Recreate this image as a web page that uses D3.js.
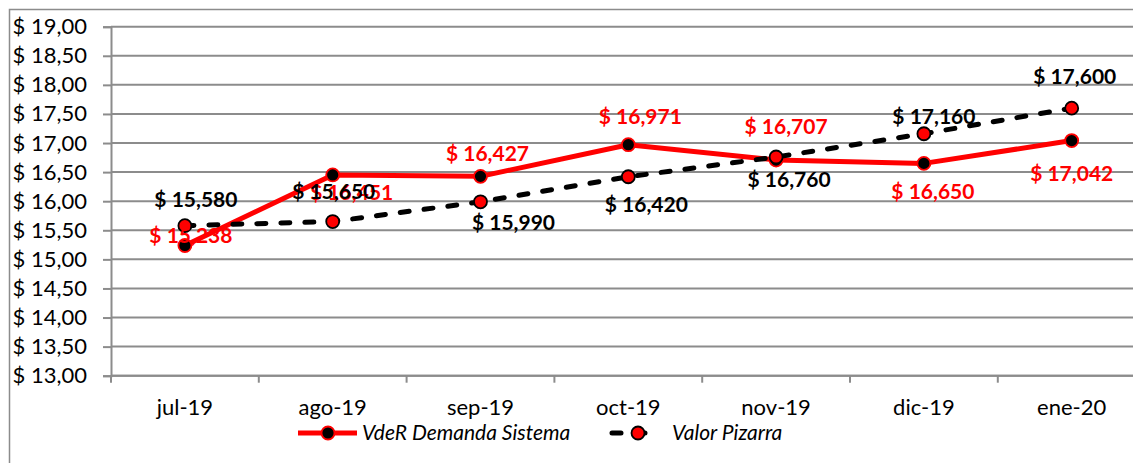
<!DOCTYPE html>
<html>
<head>
<meta charset="utf-8">
<script src="https://cdn.jsdelivr.net/npm/d3@7"></script>
<style>
    body { margin: 0; background: #fff; }
    svg { display: block; font-family: Lato, "Open Sans", sans-serif; }
    .axis-label { font-size: 22px; fill: #000; }
    .bar-text { font-size: 21px; font-weight: bold; }
    .legend-text { font-size: 21px; font-style: italic; fill: #000; }
</style>
</head>
<body>
<div id="chart"></div>
<script>
const months = ["jul-19", "ago-19", "sep-19", "oct-19", "nov-19", "dic-19", "ene-20"];
const vdeR = [15.238, 16.451, 16.427, 16.971, 16.707, 16.650, 17.042];
const pizarra = [15.580, 15.650, 15.990, 16.420, 16.760, 17.160, 17.600];
const yTicks = [13, 13.5, 14, 14.5, 15, 15.5, 16, 16.5, 17, 17.5, 18, 18.5, 19];
const seriesNames = ["VdeR Demanda Sistema", "Valor Pizarra"];

// label nudges (dx, dy) as the labels sit in the original
const vdeROffsets = [[6, -10], [19, 18], [7, -23], [12, -28], [10, -33], [9, 28], [0, 33]];
const pizarraOffsets = [[11, -26], [1, -30], [33, 21], [18, 28], [13, 23], [10, -17], [3, -31]];

const W = 1133, H = 463;
const margin = { top: 26.7, left: 111 };
const plotW = 7 * 147.8;
const plotBottom = 375.7;

const locale = d3.formatLocale({ decimal: ",", thousands: ".", grouping: [3], currency: ["$", ""] });
const fmtTick = locale.format(".2f");
const fmtVal = locale.format(".3f");

const svg = d3.select("#chart").append("svg")
    .attr("width", W)
    .attr("height", H);

// outer chart border
svg.append("rect")
    .attr("x", 9.5).attr("y", 9.5)
    .attr("width", W + 20).attr("height", H + 20)
    .attr("fill", "none")
    .attr("stroke", "#8c8c8c")
    .attr("stroke-width", 1.5);

const x = d3.scaleBand()
    .domain(months)
    .range([margin.left, margin.left + plotW])
    .padding(0);
const cx = d => x(d) + x.bandwidth() / 2;

const y = d3.scaleLinear()
    .domain([13, 19])
    .range([plotBottom, margin.top]);

// gridlines
svg.append("g")
    .selectAll("line")
    .data(yTicks)
    .enter()
    .append("line")
    .attr("x1", margin.left)
    .attr("x2", margin.left + plotW)
    .attr("y1", d => y(d))
    .attr("y2", d => y(d))
    .attr("stroke", "#8c8c8c")
    .attr("stroke-width", 2);

// y axis
const yAxis = svg.append("g")
    .attr("transform", "translate(" + margin.left + ",0)")
    .call(d3.axisLeft(y).tickValues(yTicks).tickSize(8).tickPadding(16)
        .tickFormat(d => "$ " + fmtTick(d)));
yAxis.select(".domain").attr("stroke", "#8c8c8c").attr("stroke-width", 2);
yAxis.selectAll(".tick line").attr("stroke", "#8c8c8c").attr("stroke-width", 2);
yAxis.selectAll("text").attr("class", "axis-label").attr("fill", "#000")
    .style("font-family", "Lato, sans-serif");

// x axis
svg.append("line")
    .attr("x1", margin.left).attr("x2", margin.left + plotW)
    .attr("y1", plotBottom).attr("y2", plotBottom)
    .attr("stroke", "#8c8c8c").attr("stroke-width", 2);

svg.append("g")
    .selectAll("line")
    .data(months)
    .enter()
    .append("line")
    .attr("x1", d => x(d)).attr("x2", d => x(d))
    .attr("y1", plotBottom).attr("y2", plotBottom + 7)
    .attr("stroke", "#8c8c8c").attr("stroke-width", 2);

svg.append("g")
    .selectAll("text")
    .data(months)
    .enter()
    .append("text")
    .attr("class", "axis-label")
    .attr("x", d => cx(d))
    .attr("y", 407)
    .attr("dy", "0.35em")
    .attr("text-anchor", "middle")
    .text(d => d);

const line = d3.line()
    .x((d, i) => cx(months[i]))
    .y(d => y(d));

// VdeR Demanda Sistema
svg.append("path")
    .datum(vdeR)
    .attr("d", line)
    .attr("fill", "none")
    .attr("stroke", "#ff0000")
    .attr("stroke-width", 5)
    .attr("stroke-linejoin", "round");

svg.append("g")
    .selectAll("circle")
    .data(vdeR)
    .enter()
    .append("circle")
    .attr("cx", (d, i) => cx(months[i]))
    .attr("cy", d => y(d))
    .attr("r", 6.5)
    .attr("fill", "#000")
    .attr("stroke", "#ff0000")
    .attr("stroke-width", 1.8);

// Valor Pizarra
svg.append("path")
    .datum(pizarra)
    .attr("d", line)
    .attr("fill", "none")
    .attr("stroke", "#000")
    .attr("stroke-width", 5)
    .attr("stroke-dasharray", "9,15")
    .attr("stroke-linecap", "round");

svg.append("g")
    .selectAll("circle")
    .data(pizarra)
    .enter()
    .append("circle")
    .attr("cx", (d, i) => cx(months[i]))
    .attr("cy", d => y(d))
    .attr("r", 6.5)
    .attr("fill", "#ff0000")
    .attr("stroke", "#000")
    .attr("stroke-width", 1.8);

// data labels
function addLabels(values, offsets, color) {
    svg.append("g")
        .selectAll("text")
        .data(values)
        .enter()
        .append("text")
        .attr("class", "bar-text")
        .attr("x", (d, i) => cx(months[i]) + offsets[i][0])
        .attr("y", (d, i) => y(d) + offsets[i][1])
        .attr("dy", "0.35em")
        .attr("text-anchor", "middle")
        .attr("fill", color)
        .text(d => "$ " + fmtVal(d));
}
addLabels(vdeR, vdeROffsets, "#ff0000");
addLabels(pizarra, pizarraOffsets, "#000");

// legend
const legendY = 433;
const leg1 = svg.append("g");
leg1.append("line")
    .attr("x1", 298).attr("x2", 357)
    .attr("y1", legendY).attr("y2", legendY)
    .attr("stroke", "#ff0000").attr("stroke-width", 5);
leg1.append("circle")
    .attr("cx", 328).attr("cy", legendY).attr("r", 6.5)
    .attr("fill", "#000").attr("stroke", "#ff0000").attr("stroke-width", 1.8);
leg1.append("text")
    .attr("class", "legend-text")
    .attr("x", 362).attr("y", legendY).attr("dy", "0.35em")
    .text(seriesNames[0]);

const leg2 = svg.append("g");
leg2.append("line")
    .attr("x1", 612).attr("x2", 660)
    .attr("y1", legendY).attr("y2", legendY)
    .attr("stroke", "#000").attr("stroke-width", 5)
    .attr("stroke-dasharray", "9,15")
    .attr("stroke-linecap", "round");
leg2.append("circle")
    .attr("cx", 638).attr("cy", legendY).attr("r", 6.5)
    .attr("fill", "#ff0000").attr("stroke", "#000").attr("stroke-width", 1.8);
leg2.append("text")
    .attr("class", "legend-text")
    .attr("x", 672).attr("y", legendY).attr("dy", "0.35em")
    .text(seriesNames[1]);
</script>
</body>
</html>
